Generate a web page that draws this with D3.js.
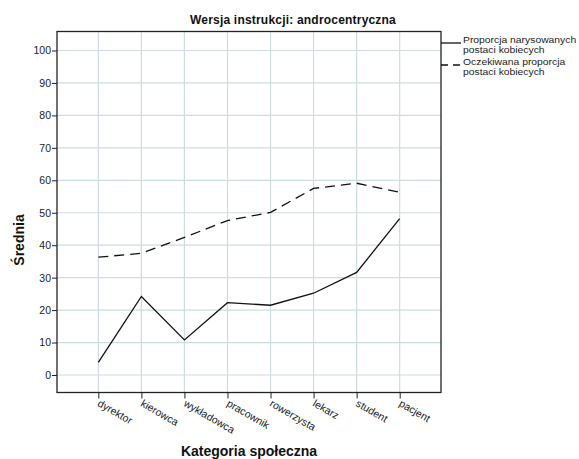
<!DOCTYPE html>
<html>
<head>
<meta charset="utf-8">
<script src="https://cdn.jsdelivr.net/npm/d3@7"></script>
<style>
  body { margin: 0; background: #fff; }
  text { font-family: "Liberation Sans", Arial, sans-serif; }
</style>
</head>
<body>
<svg id="chart" width="579" height="459"></svg>
<script>
const categories = ["dyrektor", "kierowca", "wykładowca", "pracownik", "rowerzysta", "lekarz", "student", "pacjent"];
const drawnShare = [3.9, 24.2, 10.8, 22.3, 21.5, 25.2, 31.6, 48.2];
const expectedShare = [36.3, 37.5, 42.4, 47.6, 50.1, 57.5, 59.1, 56.3];
const yTicks = [0, 10, 20, 30, 40, 50, 60, 70, 80, 90, 100];
const seriesNames = [["Proporcja narysowanych", "postaci kobiecych"], ["Oczekiwana proporcja", "postaci kobiecych"]];
const title = "Wersja instrukcji: androcentryczna";
const yTitle = "Średnia";
const xTitle = "Kategoria społeczna";

const svg = d3.select("#chart");
const L = 57, R = 441, T = 31.5, B = 392.5;

const x = d3.scalePoint().domain(categories).range([L, R]).padding(0.96);
const y = d3.scaleLinear().domain([0, 100]).range([375, 50.5]);

const grid = "#cddcdf";
// grid
svg.append("g").selectAll("line").data(yTicks).join("line")
  .attr("x1", L).attr("x2", R).attr("y1", d => y(d)).attr("y2", d => y(d))
  .attr("stroke", grid).attr("stroke-width", 1.2);
svg.append("g").selectAll("line").data(categories).join("line")
  .attr("x1", d => x(d)).attr("x2", d => x(d)).attr("y1", T).attr("y2", B)
  .attr("stroke", grid).attr("stroke-width", 1.2);

// frame
svg.append("rect").attr("x", L).attr("y", T).attr("width", R - L).attr("height", B - T)
  .attr("fill", "none").attr("stroke", "#222").attr("stroke-width", 1.3);

// y axis
const yAxis = d3.axisLeft(y).tickValues(yTicks).tickSize(5).tickPadding(1);
const yg = svg.append("g").attr("transform", `translate(${L},0)`).call(yAxis);
yg.select(".domain").remove();
yg.selectAll(".tick line").attr("stroke", "#222");
yg.selectAll(".tick text").attr("font-size", 10.5).attr("fill", "#222")
  .attr("font-family", "Liberation Sans, Arial, sans-serif");

// x axis
const xAxis = d3.axisBottom(x).tickSize(6).tickPadding(0);
const xg = svg.append("g").attr("transform", `translate(0,${B})`).call(xAxis);
xg.select(".domain").remove();
xg.selectAll(".tick line").attr("stroke", "#222");
xg.selectAll(".tick text")
  .attr("font-size", 10.5).attr("fill", "#222")
  .attr("font-family", "Liberation Sans, Arial, sans-serif")
  .attr("text-anchor", "start")
  .attr("dy", null)
  .attr("transform", "translate(-2,13) rotate(30)")
  .attr("y", 0).attr("x", 0);

// lines
const line = d3.line().x((d, i) => x(categories[i])).y(d => y(d));
svg.append("path").datum(drawnShare).attr("d", line)
  .attr("fill", "none").attr("stroke", "#111").attr("stroke-width", 1.3);
svg.append("path").datum(expectedShare).attr("d", line)
  .attr("fill", "none").attr("stroke", "#111").attr("stroke-width", 1.3)
  .attr("stroke-dasharray", "10,6");

// title
svg.append("text").attr("x", 293).attr("y", 24).attr("text-anchor", "middle")
  .attr("font-size", 12).attr("letter-spacing", 0.2).attr("font-weight", "bold").attr("fill", "#111").text(title);

// axis titles
svg.append("text").attr("transform", "translate(24,240) rotate(-90)").attr("text-anchor", "middle")
  .attr("font-size", 14).attr("font-weight", "bold").attr("fill", "#111").text(yTitle);
svg.append("text").attr("x", 249).attr("y", 456).attr("text-anchor", "middle")
  .attr("font-size", 14).attr("font-weight", "bold").attr("fill", "#111").text(xTitle);

// legend
const leg = svg.append("g");
const legY = [43, 65];
const dashes = [null, "7,5"];
seriesNames.forEach((names, i) => {
  leg.append("line").attr("x1", R).attr("x2", 461).attr("y1", legY[i]).attr("y2", legY[i])
    .attr("stroke", "#111").attr("stroke-width", 1.3).attr("stroke-dasharray", dashes[i]);
  names.forEach((t, j) => {
    leg.append("text").attr("transform", `translate(463,${legY[i] + j * 10.3}) scale(1.15,1)`)
      .attr("font-size", 9).attr("fill", "#222").text(t);
  });
});
</script>
</body>
</html>
